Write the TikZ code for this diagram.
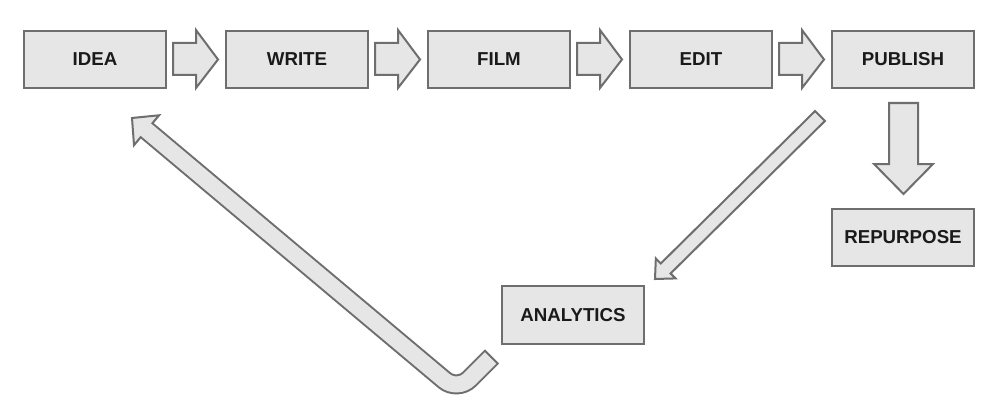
\documentclass[tikz,border=0pt]{standalone}
\usepackage{fontspec}
\setmainfont{Liberation Sans}
\definecolor{boxfill}{HTML}{E6E6E6}
\definecolor{boxline}{HTML}{6E6E6E}
\definecolor{txt}{HTML}{1A1A1A}
\tikzset{
  stage/.style={draw=boxline, fill=boxfill, line width=0.05cm, minimum width=3.55cm, minimum height=1.425cm, inner sep=0pt, text=txt, font=\fontsize{13.3}{16}\selectfont\bfseries},
  arrowshape/.style={draw=boxline, fill=boxfill, line width=0.05cm, line join=miter},
}
\begin{document}
\begin{tikzpicture}[x=0.025cm,y=-0.025cm]
\useasboundingbox (0,0) rectangle (1000,420);
\fill[white] (0,0) rectangle (1000,420);
% stage boxes
\node[stage] (idea) at (95,59.5) {IDEA};
\node[stage] (write) at (297,59.5) {WRITE};
\node[stage] (film) at (499,59.5) {FILM};
\node[stage] (edit) at (701,59.5) {EDIT};
\node[stage] (publish) at (903,59.5) {PUBLISH};
\node[stage] (repurpose) at (903,237.5) {REPURPOSE};
\node[stage] (analytics) at (573,315) {ANALYTICS};
% small right arrows between boxes
\foreach \dx in {0,202,404,606}{
  \draw[arrowshape, xshift=\dx*0.025cm] (173,43) -- (196,43) -- (196,30) -- (218,59.5) -- (196,88) -- (196,75) -- (173,75) -- cycle;
}
% down arrow publish -> repurpose
\draw[arrowshape] (889,103) -- (918,103) -- (918,164) -- (933,164) -- (903.5,194) -- (874,164) -- (889,164) -- cycle;
% diagonal arrow publish -> analytics
\draw[arrowshape] (655,279) -- (675.51,278.42) -- (670.59,273.44) -- (824.92,120.98) -- (815.08,111.02) -- (660.75,263.48) -- (655.83,258.50) -- cycle;
% big feedback arrow analytics -> idea
\coordinate (fbB) at (146.55,130.22);
\coordinate (fbBi) at (145.4,129.26);
\coordinate (fbP) at (457.4,391.1);
\coordinate (fbR) at (492,356.5);
\coordinate (fbRi) at (490.6,357.9);
\draw[boxline, line width=0.5cm, rounded corners=0.425cm] (fbB) -- (fbP) -- (fbR);
\draw[arrowshape] (132,118) -- (159.09,115.28) -- (134.0,145.16) -- cycle;
\draw[boxfill, line width=0.4cm, rounded corners=0.425cm] (fbBi) -- (fbP) -- (fbRi);
\end{tikzpicture}
\end{document}
